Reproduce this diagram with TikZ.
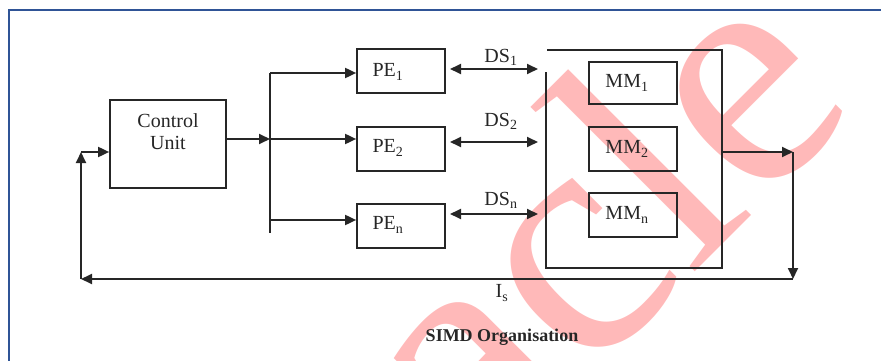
\documentclass[tikz,border=0pt]{standalone}
\usepackage{fontspec}
\setmainfont{Liberation Serif}
\usetikzlibrary{arrows.meta}
\definecolor{frameblue}{RGB}{47,84,150}
\definecolor{wmpink}{RGB}{255,185,185}
\definecolor{ink}{RGB}{38,38,38}
\begin{document}
\begin{tikzpicture}[x=1pt,y=-1pt,
  box/.style={draw=ink, line width=1.7pt, minimum width=88pt, minimum height=44pt, inner sep=0pt},
  lbl/.style={font=\fontsize{20}{22}\selectfont, text=ink, inner sep=0pt},
  wire/.style={draw=ink, line width=1.8pt},
  arr/.style={wire, -{Triangle[length=11pt,width=10pt]}},
  dblarr/.style={wire, {Triangle[length=11pt,width=10pt]}-{Triangle[length=11pt,width=10pt]}}]
\useasboundingbox (0,0) rectangle (881,361);

% watermark
\node[text=wmpink, font=\fontsize{335}{335}\selectfont, rotate=45, inner sep=0pt] (wm) at (590,215) {acle};

% page frame
\draw[frameblue, line width=2.5pt] (9,361) -- (9,10) -- (881,10);

% control unit
\node[box, minimum width=116pt, minimum height=88pt] (cu) at (168,144) {};
\node[lbl, align=center] (cutext) at (168,132) {Control\\Unit};

% processing elements
\node[box] (pe1) at (401,71) {};
\node[box] (pe2) at (401,149) {};
\node[box] (pen) at (401,226) {};
\node[lbl] (pe1t) at (388,72) {PE\textsubscript{1}};
\node[lbl] (pe2t) at (388,148) {PE\textsubscript{2}};
\node[lbl] (pent) at (388,225) {PE\textsubscript{n}};

% memory modules
\node[box, minimum height=42pt] (mm1) at (633,83) {};
\node[box] (mm2) at (633,149) {};
\node[box] (mmn) at (633,215) {};
\node[lbl] (mm1t) at (627,83) {MM\textsubscript{1}};
\node[lbl] (mm2t) at (627,149) {MM\textsubscript{2}};
\node[lbl] (mmnt) at (627,215) {MM\textsubscript{n}};

% memory enclosure (open at the upper left)
\coordinate (mtl) at (547,50);
\coordinate (mtr) at (722,50);
\coordinate (mbr) at (722,268);
\coordinate (mbl) at (546,268);
\coordinate (mlt) at (546,72);
\draw[wire] (mtl) -- (mtr) -- (mbr) -- (mbl) -- (mlt);

% instruction bus from the control unit
\coordinate (btop) at (270,73);
\coordinate (b2) at (270,139);
\coordinate (bbot) at (270,233);
\coordinate (b3) at (270,220);
\draw[wire] (btop) -- (bbot);
\draw[arr] (cu.east |- b2) -- (b2);
\draw[arr] (btop) -- (btop -| pe1.west);
\draw[arr] (b2) -- (b2 -| pe2.west);
\draw[arr] (b3) -- (b3 -| pen.west);

% data streams
\coordinate (d1a) at (450,69);  \coordinate (d1b) at (538,69);
\coordinate (d2a) at (450,142); \coordinate (d2b) at (538,142);
\coordinate (d3a) at (450,214); \coordinate (d3b) at (538,214);
\draw[dblarr] (d1a) -- (d1b);
\draw[dblarr] (d2a) -- (d2b);
\draw[dblarr] (d3a) -- (d3b);
\node[lbl] (ds1) at (501,57) {DS\textsubscript{1}};
\node[lbl] (ds2) at (501,121) {DS\textsubscript{2}};
\node[lbl] (dsn) at (501,200) {DS\textsubscript{n}};

% feedback loop to the control unit
\coordinate (mout) at (722,152);
\coordinate (outR) at (793,152);
\coordinate (outB) at (793,279);
\coordinate (retL) at (81,279);
\coordinate (retT) at (81,152);
\draw[arr] (mout) -- (outR);
\draw[arr] (outR) -- (outB);
\draw[arr] (outB) -- (retL);
\draw[arr] (retL) -- (retT);
\draw[arr] (retT) -- (cu.west |- retT);
\node[lbl] (is) at (502,293) {I\textsubscript{s}};

% caption
\node[lbl, font=\bfseries\fontsize{18}{20}\selectfont] (title) at (502,337) {SIMD Organisation};
\end{tikzpicture}
\end{document}
